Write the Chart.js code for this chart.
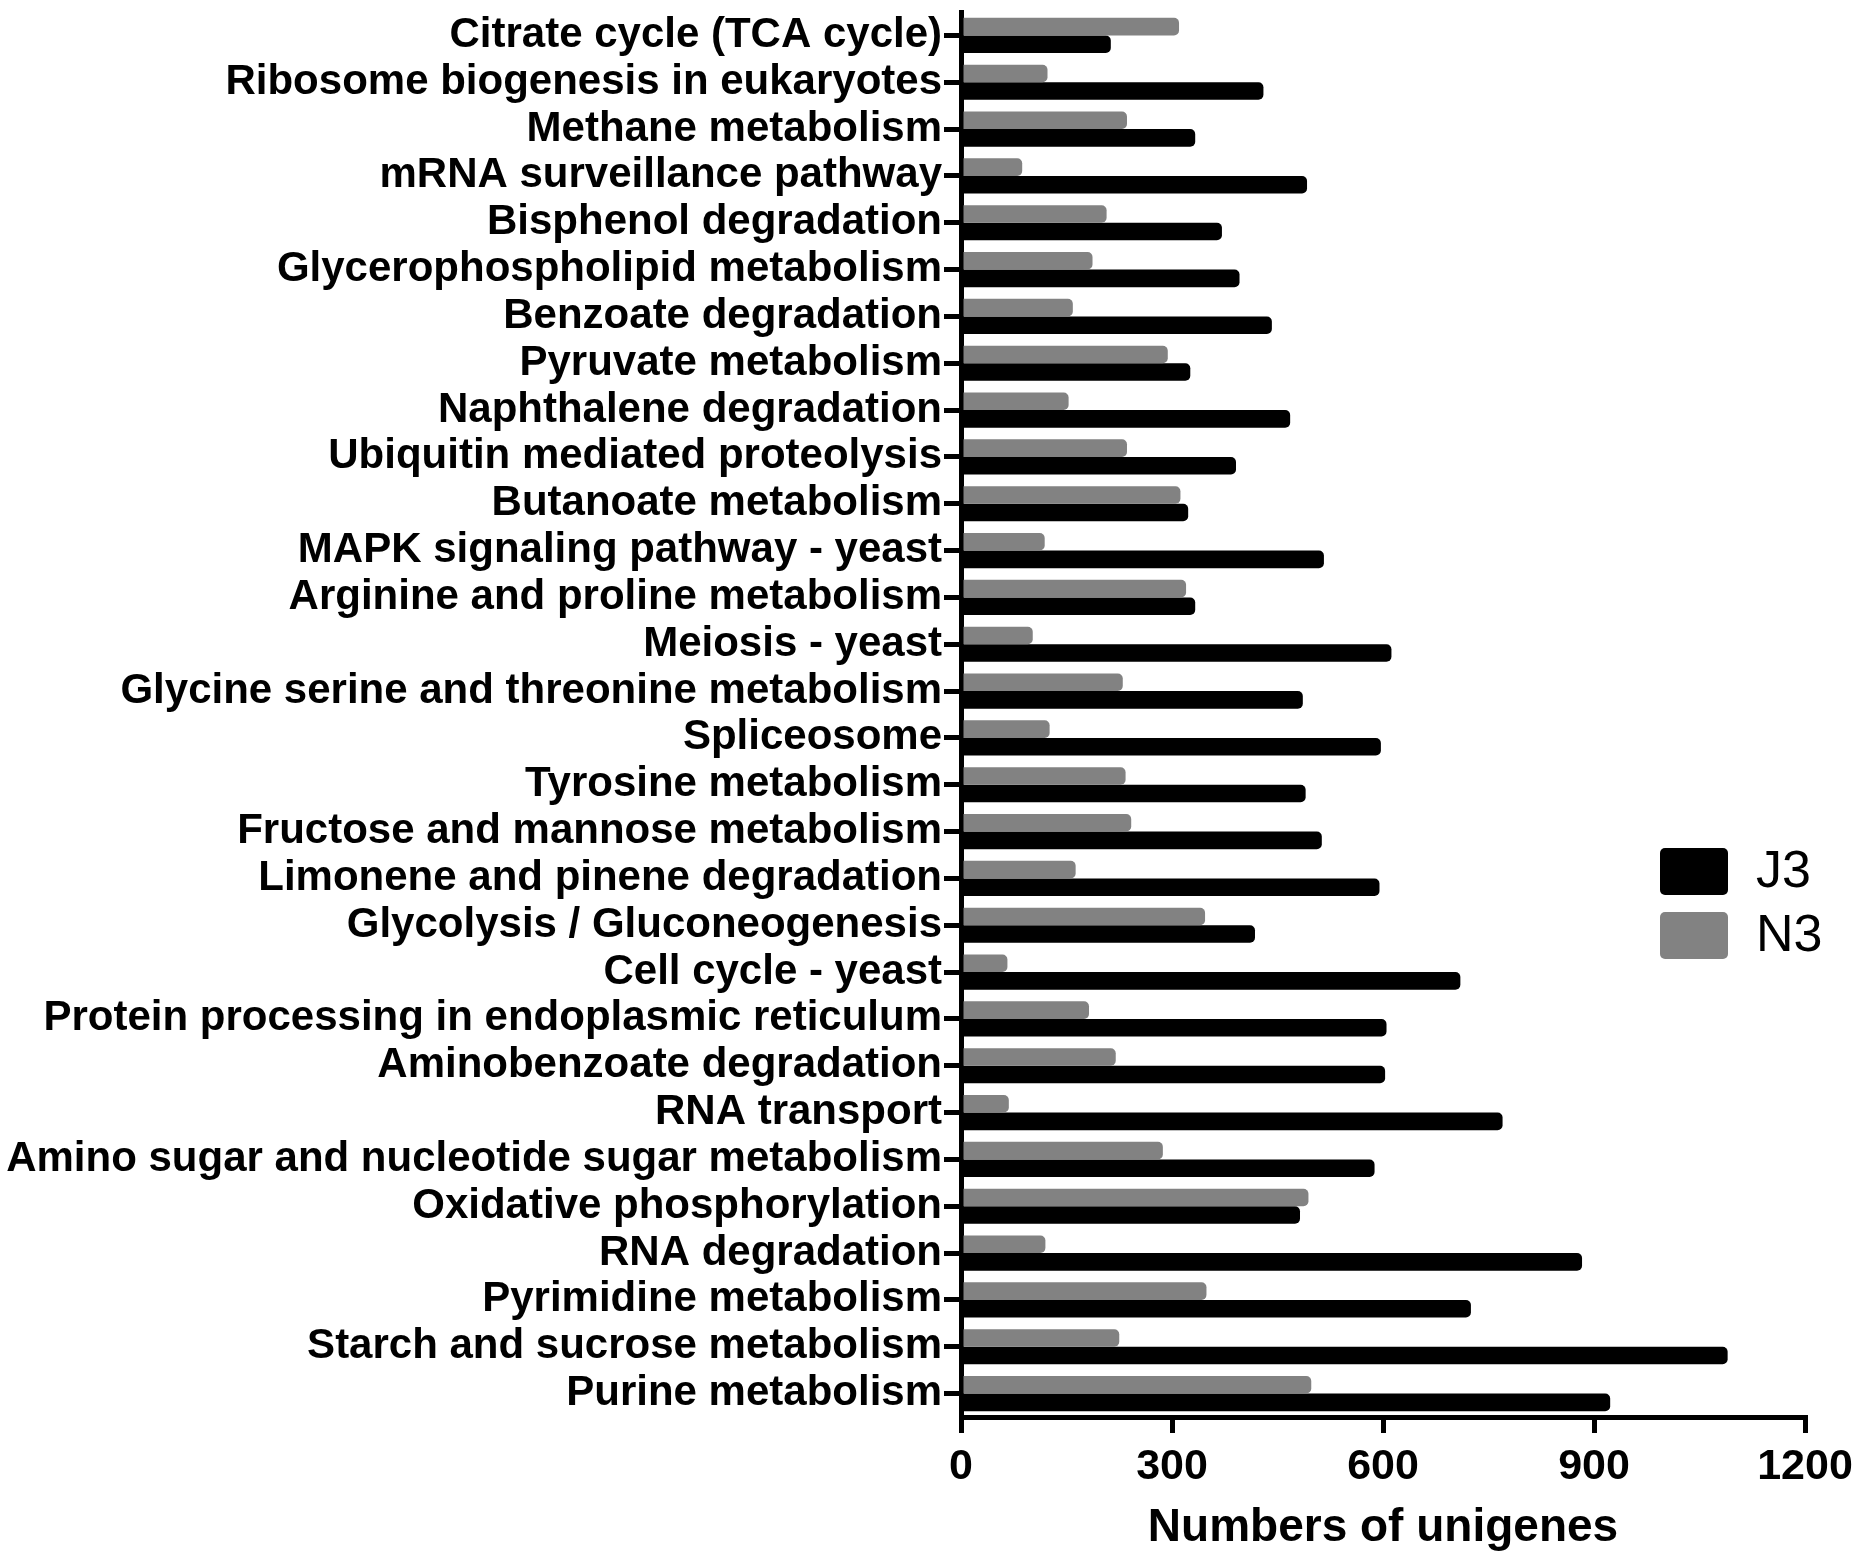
<!DOCTYPE html>
<html>
<head>
<meta charset="utf-8">
<script src="https://cdn.jsdelivr.net/npm/chart.js@4"></script>
<style>
  html, body { margin: 0; padding: 0; background: #fff; }
  canvas { display: block; }
</style>
</head>
<body>
<canvas id="Grafica" width="1856" height="1554"></canvas>
<script>
const pathways = [
  'Citrate cycle (TCA cycle)',
  'Ribosome biogenesis in eukaryotes',
  'Methane metabolism',
  'mRNA surveillance pathway',
  'Bisphenol degradation',
  'Glycerophospholipid metabolism',
  'Benzoate degradation',
  'Pyruvate metabolism',
  'Naphthalene degradation',
  'Ubiquitin mediated proteolysis',
  'Butanoate metabolism',
  'MAPK signaling pathway - yeast',
  'Arginine and proline metabolism',
  'Meiosis - yeast',
  'Glycine serine and threonine metabolism',
  'Spliceosome',
  'Tyrosine metabolism',
  'Fructose and mannose metabolism',
  'Limonene and pinene degradation',
  'Glycolysis / Gluconeogenesis',
  'Cell cycle - yeast',
  'Protein processing in endoplasmic reticulum',
  'Aminobenzoate degradation',
  'RNA transport',
  'Amino sugar and nucleotide sugar metabolism',
  'Oxidative phosphorylation',
  'RNA degradation',
  'Pyrimidine metabolism',
  'Starch and sucrose metabolism',
  'Purine metabolism'
];

const j3Values = [213, 430, 333, 492, 371, 396, 442, 326, 468, 391,
                  323, 516, 333, 612, 486, 597, 490, 513, 595, 418,
                  710, 605, 603, 770, 588, 482, 883, 725, 1090, 923];

const n3Values = [310, 123, 236, 87, 207, 187, 159, 294, 153, 236,
                  312, 119, 320, 102, 230, 126, 234, 242, 163, 347,
                  66, 182, 220, 68, 287, 494, 120, 349, 225, 498];

const xTicks = [0, 300, 600, 900, 1200];

const BLACK = '#000000';
const GREY = '#828282';
const sans = '"Liberation Sans", Arial, sans-serif';

// legend drawn by hand so it can sit inside the plot, J3 on top
const sideLegend = {
  id: 'sideLegend',
  afterDraw(chart) {
    const ctx = chart.ctx;
    const items = chart.data.datasets.slice().reverse();
    ctx.save();
    ctx.font = '52px ' + sans;
    ctx.textBaseline = 'middle';
    ctx.textAlign = 'left';
    items.forEach((ds, i) => {
      const y = 848 + i * 64;
      ctx.fillStyle = ds.backgroundColor;
      ctx.beginPath();
      ctx.roundRect(1660, y, 68, 47, 5);
      ctx.fill();
      ctx.fillStyle = BLACK;
      ctx.fillText(ds.label, 1756, y + 25);
    });
    ctx.restore();
  }
};

const config = {
  type: 'bar',
  data: {
    labels: pathways,
    datasets: [
      {
        label: 'N3',
        data: n3Values,
        backgroundColor: GREY,
        borderRadius: 5,
        borderSkipped: 'start',
        barPercentage: 1.0,
        categoryPercentage: 0.75
      },
      {
        label: 'J3',
        data: j3Values,
        backgroundColor: BLACK,
        borderRadius: 5,
        borderSkipped: 'start',
        barPercentage: 1.0,
        categoryPercentage: 0.75
      }
    ]
  },
  options: {
    indexAxis: 'y',
    responsive: false,
    devicePixelRatio: 1,
    animation: false,
    layout: { padding: { top: 12, right: 51, bottom: 1, left: 0 } },
    plugins: {
      legend: { display: false },
      tooltip: { enabled: false }
    },
    scales: {
      y: {
        offset: true,
        afterFit: (scale) => {
          scale.width = 961;
          scale.paddingTop = 0;
          scale.paddingBottom = 0;
        },
        grid: {
          offset: false,
          drawOnChartArea: false,
          drawTicks: true,
          tickLength: 17,
          lineWidth: 5,
          color: BLACK
        },
        border: { display: true, width: 5, color: BLACK },
        ticks: {
          color: BLACK,
          padding: 2,
          autoSkip: false,
          font: { family: sans, size: 42, weight: 'bold' }
        }
      },
      x: {
        min: 0,
        max: 1200,
        afterBuildTicks: (scale) => { scale.ticks = xTicks.map(v => ({ value: v })); },
        afterFit: (scale) => {
          scale.height = 136;
          scale.paddingLeft = 0;
          scale.paddingRight = 0;
        },
        grid: {
          drawOnChartArea: false,
          drawTicks: true,
          tickLength: 16,
          lineWidth: 5,
          color: BLACK
        },
        border: { display: true, width: 5, color: BLACK },
        ticks: {
          color: BLACK,
          padding: 8,
          maxRotation: 0,
          callback: (v) => String(v),
          font: { family: sans, size: 43, weight: 'bold' }
        },
        title: {
          display: true,
          text: 'Numbers of unigenes',
          color: BLACK,
          padding: { top: 0, bottom: 2 },
          font: { family: sans, size: 46, weight: 'bold', lineHeight: 1 }
        }
      }
    }
  },
  plugins: [sideLegend]
};

const chart = new Chart(document.getElementById('Grafica'), config);
</script>
</body>
</html>
